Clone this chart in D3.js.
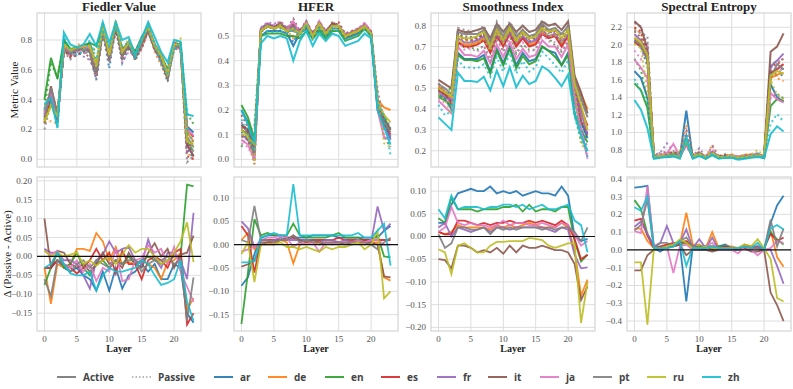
<!doctype html>
<html lang="en">
<head>
<meta charset="utf-8">
<style>
  body { margin: 0; background: #fff; }
  svg { display: block; background: #fff; }
  .tick { font-family: "Liberation Serif", "DejaVu Serif", serif; font-size: 9px; fill: #555; }
  .title { font-family: "Liberation Serif", serif; font-size: 13px; font-weight: bold; fill: #222; }
  .ylab { font-family: "Liberation Serif", serif; font-size: 11px; fill: #222; }
  .xlab { font-family: "Liberation Serif", serif; font-size: 10px; font-weight: bold; fill: #222; }
  .legend text { font-family: "Open Sans", "DejaVu Sans", sans-serif; font-size: 10px; font-weight: 700; fill: #444; }
</style>
</head>
<body>
<script src="https://d3js.org/d3.v7.min.js"></script>
<script>
var layers = d3.range(24);
var languages = ["ar", "de", "en", "es", "fr", "it", "ja", "pt", "ru", "zh"];
var langColors = ["#1f77b4", "#ff7f0e", "#2ca02c", "#d62728", "#9467bd", "#8c564b", "#e377c2", "#7f7f7f", "#bcbd22", "#17becf"];
var xTicks = [0, 5, 10, 15, 20];

// ---- Fiedler Value ----
var fiedlerActive = {
  ar: [0.30,0.42,0.25,0.80,0.73,0.75,0.76,0.78,0.62,0.89,0.70,0.91,0.73,0.79,0.72,0.82,0.89,0.77,0.70,0.58,0.78,0.77,0.22,0.18],
  de: [0.28,0.38,0.26,0.76,0.71,0.75,0.75,0.75,0.60,0.88,0.69,0.90,0.71,0.78,0.70,0.80,0.88,0.75,0.69,0.56,0.77,0.76,0.18,0.12],
  en: [0.40,0.68,0.54,0.80,0.74,0.75,0.76,0.78,0.76,0.88,0.72,0.90,0.74,0.78,0.72,0.81,0.88,0.77,0.70,0.60,0.78,0.77,0.12,0.05],
  es: [0.28,0.40,0.27,0.75,0.72,0.74,0.75,0.74,0.60,0.87,0.70,0.89,0.72,0.77,0.70,0.80,0.87,0.75,0.69,0.57,0.77,0.76,0.20,0.15],
  fr: [0.29,0.44,0.28,0.74,0.71,0.74,0.74,0.75,0.59,0.88,0.69,0.90,0.71,0.77,0.69,0.79,0.87,0.74,0.68,0.56,0.76,0.75,0.10,0.02],
  it: [0.24,0.49,0.30,0.73,0.70,0.73,0.74,0.72,0.56,0.86,0.67,0.89,0.69,0.76,0.68,0.78,0.86,0.74,0.67,0.54,0.76,0.75,0.10,0.02],
  ja: [0.30,0.45,0.28,0.76,0.72,0.74,0.75,0.75,0.62,0.88,0.70,0.90,0.72,0.78,0.70,0.80,0.88,0.76,0.69,0.58,0.77,0.76,0.20,0.16],
  pt: [0.26,0.48,0.30,0.74,0.71,0.74,0.74,0.73,0.58,0.87,0.68,0.90,0.70,0.77,0.69,0.79,0.87,0.75,0.68,0.55,0.76,0.75,0.15,0.08],
  ru: [0.25,0.36,0.29,0.77,0.73,0.75,0.76,0.76,0.64,0.89,0.70,0.93,0.72,0.78,0.70,0.80,0.89,0.76,0.70,0.57,0.77,0.77,0.12,0.10],
  zh: [0.37,0.41,0.21,0.85,0.77,0.75,0.77,0.84,0.76,0.92,0.78,0.92,0.80,0.82,0.70,0.81,0.92,0.82,0.72,0.65,0.80,0.79,0.30,0.29]
};
var fiedlerDelta = {
  ar: [-0.03,-0.03,-0.01,-0.03,-0.04,-0.03,-0.05,-0.06,-0.09,-0.04,-0.09,-0.03,-0.085,-0.05,-0.04,-0.02,-0.04,-0.02,-0.06,-0.06,-0.02,-0.03,-0.15,-0.175],
  de: [-0.03,-0.125,-0.02,-0.03,-0.02,0.02,0.02,0.015,0.062,0.04,-0.01,0.025,-0.02,-0.015,-0.02,-0.01,-0.02,-0.03,-0.06,-0.015,-0.01,0.01,-0.14,-0.11],
  en: [-0.075,-0.03,0.01,-0.03,-0.02,0.01,-0.03,-0.05,-0.02,-0.01,-0.03,-0.01,-0.02,0.0,-0.02,-0.01,0.0,-0.01,-0.02,-0.01,0.0,0.0,0.19,0.185],
  es: [-0.03,-0.03,-0.01,-0.02,-0.03,-0.045,-0.03,-0.01,0.02,-0.01,0.01,-0.045,0.015,-0.02,-0.02,-0.06,-0.01,0.0,-0.01,-0.03,0.01,0.02,-0.18,-0.15],
  fr: [0.02,0.01,0.01,-0.01,-0.01,-0.02,-0.05,-0.085,-0.01,0.005,0.04,0.01,0.02,0.025,-0.01,-0.02,0.045,-0.005,-0.03,0.01,0.01,-0.01,-0.06,0.115],
  it: [0.10,-0.03,0.015,0.01,-0.02,-0.03,-0.02,-0.04,-0.02,0.01,-0.02,-0.01,-0.03,0.01,-0.02,-0.03,0.01,0.035,0.0,0.02,-0.03,0.005,0.01,0.055],
  ja: [0.015,0.005,0.015,-0.02,-0.03,-0.01,-0.04,-0.02,-0.065,-0.03,-0.04,0.02,-0.065,-0.06,-0.01,-0.005,0.03,0.01,0.02,-0.02,0.025,-0.04,-0.08,-0.12],
  pt: [-0.06,-0.105,-0.01,-0.02,-0.04,-0.02,-0.01,-0.03,-0.01,-0.02,-0.03,-0.01,-0.02,-0.01,-0.01,-0.04,-0.02,-0.01,-0.01,0.0,-0.02,-0.01,-0.17,-0.055],
  ru: [0.015,0.0,0.01,0.0,0.005,0.01,-0.02,-0.01,-0.025,-0.01,0.0,-0.02,0.005,0.03,0.01,0.02,0.02,0.0,-0.02,-0.01,0.01,0.04,0.09,-0.015],
  zh: [-0.03,-0.02,0.01,-0.02,-0.045,-0.05,-0.05,-0.04,-0.09,-0.05,-0.03,-0.04,-0.04,-0.035,-0.03,-0.01,-0.02,-0.05,-0.075,-0.07,-0.06,-0.01,-0.12,-0.17]
};

// ---- HFER ----
var hferActive = {
  ar: [0.20,0.15,0.05,0.50,0.52,0.52,0.52,0.51,0.46,0.51,0.53,0.49,0.53,0.50,0.53,0.53,0.49,0.50,0.51,0.53,0.50,0.22,0.15,0.08],
  de: [0.12,0.10,0.03,0.52,0.54,0.53,0.54,0.52,0.53,0.51,0.55,0.50,0.55,0.51,0.54,0.54,0.50,0.51,0.52,0.54,0.51,0.24,0.21,0.20],
  en: [0.22,0.17,0.08,0.50,0.51,0.51,0.51,0.50,0.50,0.49,0.52,0.49,0.52,0.49,0.52,0.52,0.48,0.49,0.50,0.53,0.50,0.22,0.17,0.12],
  es: [0.14,0.11,0.04,0.52,0.54,0.53,0.54,0.52,0.53,0.51,0.55,0.50,0.55,0.51,0.54,0.54,0.50,0.51,0.52,0.54,0.51,0.21,0.14,0.10],
  fr: [0.10,0.08,0.02,0.53,0.55,0.54,0.54,0.52,0.54,0.51,0.55,0.50,0.55,0.51,0.54,0.54,0.50,0.51,0.52,0.54,0.51,0.20,0.13,0.09],
  it: [0.14,0.12,0.03,0.52,0.54,0.53,0.55,0.52,0.55,0.51,0.55,0.50,0.55,0.51,0.55,0.54,0.50,0.51,0.52,0.54,0.51,0.23,0.16,0.12],
  ja: [0.08,0.06,0.00,0.52,0.54,0.53,0.54,0.52,0.56,0.51,0.56,0.50,0.56,0.51,0.54,0.54,0.50,0.51,0.52,0.55,0.51,0.20,0.09,0.08],
  pt: [0.12,0.10,0.02,0.52,0.54,0.53,0.54,0.52,0.52,0.51,0.55,0.50,0.55,0.51,0.54,0.54,0.50,0.51,0.52,0.54,0.51,0.22,0.15,0.11],
  ru: [0.12,0.09,0.06,0.52,0.54,0.53,0.54,0.52,0.53,0.51,0.55,0.50,0.55,0.51,0.54,0.54,0.50,0.51,0.52,0.54,0.51,0.23,0.18,0.15],
  zh: [0.20,0.14,0.07,0.47,0.50,0.49,0.50,0.49,0.40,0.48,0.52,0.46,0.51,0.48,0.51,0.50,0.46,0.47,0.48,0.51,0.49,0.20,0.13,0.06]
};
var hferDelta = {
  ar: [-0.088,-0.07,-0.02,0.015,0.02,0.02,0.02,0.015,0.015,0.015,0.015,0.02,0.02,0.02,0.02,0.015,0.015,0.015,0.015,0.015,0.015,0.015,0.03,0.04],
  de: [0.01,0.025,-0.01,0.005,0.005,0.0,0.01,0.005,-0.04,0.0,0.005,0.005,0.0,0.005,0.005,0.0,0.005,0.005,0.005,0.0,0.005,0.005,-0.07,-0.077],
  en: [-0.17,-0.06,0.055,0.02,0.025,0.02,0.02,0.02,0.045,0.02,0.015,0.015,0.015,0.015,0.02,0.025,0.015,0.015,0.015,0.01,0.01,0.02,-0.025,-0.027],
  es: [0.04,0.02,-0.06,0.01,0.01,0.01,0.01,0.015,0.015,0.01,0.01,0.01,0.01,0.01,0.01,0.015,0.01,0.01,0.01,0.01,0.01,0.01,0.01,0.01],
  fr: [0.05,0.035,-0.005,0.005,0.005,0.01,0.015,0.01,0.01,0.01,0.01,0.01,0.005,0.01,0.01,0.005,0.01,0.005,0.01,0.005,0.005,0.082,0.03,0.045],
  it: [-0.047,-0.042,-0.035,0.0,0.005,0.005,0.01,0.01,0.02,0.01,0.005,0.01,0.005,0.0,0.005,0.005,0.0,0.005,0.01,0.005,0.005,0.0,-0.068,-0.07],
  ja: [-0.015,-0.01,-0.005,0.01,0.015,0.015,0.02,0.015,-0.005,0.005,0.0,0.005,-0.015,0.005,0.0,0.005,0.005,0.005,0.01,0.005,0.01,0.01,0.0,0.0],
  pt: [0.01,0.005,0.083,0.01,0.01,0.005,0.01,0.01,0.02,0.005,0.01,0.005,0.005,0.005,0.005,0.005,0.005,0.005,0.005,0.005,0.0,-0.01,0.005,0.015],
  ru: [-0.02,0.005,-0.08,0.0,0.0,0.0,0.005,-0.005,-0.005,-0.01,-0.005,-0.01,-0.015,-0.005,-0.01,-0.005,-0.005,0.0,0.005,-0.01,0.0,0.03,-0.115,-0.1],
  zh: [-0.038,-0.038,-0.035,0.015,0.02,0.025,0.02,0.02,0.13,0.02,0.02,0.02,0.02,0.02,0.02,0.02,0.02,0.02,0.025,0.015,0.015,0.03,0.045,-0.045]
};

// ---- Smoothness Index ----
var smoothActive = {
  ar: [0.47,0.45,0.40,0.67,0.64,0.64,0.64,0.66,0.58,0.69,0.62,0.70,0.61,0.67,0.63,0.64,0.70,0.68,0.67,0.61,0.67,0.44,0.34,0.26],
  de: [0.51,0.48,0.44,0.72,0.71,0.71,0.72,0.74,0.68,0.76,0.71,0.77,0.71,0.75,0.71,0.72,0.77,0.75,0.76,0.71,0.76,0.55,0.47,0.40],
  en: [0.46,0.44,0.42,0.66,0.635,0.635,0.63,0.645,0.57,0.68,0.61,0.69,0.595,0.655,0.615,0.63,0.70,0.68,0.65,0.61,0.66,0.38,0.30,0.24],
  es: [0.49,0.47,0.43,0.72,0.70,0.70,0.71,0.73,0.67,0.75,0.70,0.76,0.70,0.74,0.70,0.71,0.76,0.74,0.75,0.70,0.75,0.50,0.40,0.32],
  fr: [0.48,0.46,0.44,0.74,0.72,0.72,0.73,0.75,0.69,0.76,0.72,0.77,0.72,0.75,0.72,0.73,0.78,0.75,0.76,0.72,0.76,0.50,0.38,0.28],
  it: [0.54,0.52,0.50,0.78,0.77,0.77,0.78,0.79,0.74,0.81,0.77,0.81,0.77,0.80,0.77,0.78,0.82,0.80,0.81,0.78,0.82,0.56,0.48,0.38],
  ja: [0.44,0.41,0.38,0.70,0.66,0.66,0.65,0.68,0.62,0.71,0.65,0.72,0.64,0.69,0.65,0.66,0.73,0.70,0.70,0.65,0.71,0.45,0.30,0.17],
  pt: [0.52,0.50,0.47,0.77,0.76,0.76,0.76,0.78,0.72,0.80,0.75,0.80,0.75,0.78,0.75,0.76,0.81,0.78,0.79,0.76,0.80,0.54,0.45,0.36],
  ru: [0.50,0.48,0.46,0.75,0.74,0.74,0.75,0.77,0.70,0.78,0.73,0.79,0.73,0.77,0.74,0.75,0.79,0.77,0.78,0.74,0.78,0.52,0.42,0.30],
  zh: [0.36,0.33,0.30,0.575,0.535,0.535,0.53,0.555,0.49,0.585,0.51,0.60,0.505,0.56,0.52,0.535,0.605,0.585,0.55,0.51,0.565,0.37,0.27,0.20]
};
var smoothDelta = {
  ar: [0.03,0.03,0.07,0.095,0.10,0.105,0.10,0.10,0.11,0.095,0.10,0.095,0.10,0.09,0.095,0.10,0.095,0.095,0.09,0.11,0.09,0.0,-0.01,-0.005],
  de: [0.01,0.005,0.01,0.025,0.02,0.02,0.02,0.02,0.015,0.025,0.02,0.025,0.02,0.025,0.03,0.025,0.02,0.02,0.02,0.03,0.02,-0.03,-0.13,-0.095],
  en: [0.04,0.03,0.085,0.06,0.06,0.06,0.055,0.06,0.06,0.06,0.065,0.065,0.07,0.055,0.07,0.055,0.06,0.06,0.055,0.065,0.065,-0.01,-0.055,-0.04],
  es: [0.01,0.005,0.005,0.035,0.035,0.03,0.025,0.03,0.025,0.03,0.03,0.035,0.03,0.03,0.035,0.03,0.035,0.03,0.025,0.035,0.025,-0.005,-0.05,-0.04],
  fr: [0.02,0.03,0.0,0.02,0.015,0.01,0.015,0.02,0.01,0.02,0.02,0.015,0.02,0.02,0.02,0.02,0.02,0.015,0.01,0.02,0.015,-0.04,-0.07,-0.068],
  it: [-0.05,-0.052,-0.07,-0.02,-0.02,-0.025,-0.035,-0.03,-0.035,-0.025,-0.038,-0.02,-0.035,-0.02,-0.025,-0.025,-0.02,-0.025,-0.03,-0.03,-0.035,-0.06,-0.14,-0.11],
  ja: [0.01,0.02,0.065,0.03,0.025,0.03,0.025,0.025,0.02,0.025,0.035,0.025,0.03,0.03,0.025,0.025,0.03,0.025,0.02,0.03,0.025,0.005,-0.02,-0.01],
  pt: [0.005,-0.025,-0.015,0.02,0.02,0.015,0.015,0.02,0.005,0.02,0.015,0.02,0.015,0.02,0.02,0.02,0.015,0.02,0.015,0.02,0.02,0.01,-0.01,0.02],
  ru: [-0.028,-0.035,-0.083,-0.02,-0.015,-0.025,-0.035,-0.035,-0.02,-0.012,-0.012,-0.01,-0.01,-0.01,-0.003,-0.005,-0.008,-0.02,-0.025,-0.02,-0.015,-0.015,-0.19,-0.1],
  zh: [0.06,0.04,0.09,0.06,0.065,0.065,0.065,0.06,0.065,0.065,0.07,0.07,0.065,0.07,0.06,0.065,0.07,0.06,0.06,0.065,0.07,0.035,0.025,-0.035]
};

// ---- Spectral Entropy ----
var entropyActive = {
  ar: [1.70,1.62,1.40,0.71,0.72,0.72,0.73,0.72,1.25,0.71,0.74,0.71,0.75,0.71,0.72,0.72,0.71,0.71,0.72,0.73,0.71,1.55,1.40,1.35],
  de: [2.08,2.00,1.85,0.72,0.73,0.73,0.74,0.72,0.88,0.72,0.75,0.71,0.76,0.72,0.72,0.73,0.71,0.72,0.73,0.74,0.72,1.62,1.66,1.68],
  en: [1.56,1.48,1.28,0.71,0.72,0.72,0.73,0.71,0.88,0.71,0.74,0.70,0.75,0.71,0.71,0.72,0.70,0.71,0.72,0.73,0.71,1.30,1.38,1.36],
  es: [2.03,1.98,1.85,0.72,0.73,0.73,0.74,0.72,0.89,0.72,0.75,0.71,0.76,0.72,0.72,0.73,0.71,0.72,0.73,0.74,0.72,1.68,1.72,1.78],
  fr: [2.12,2.05,1.90,0.72,0.73,0.74,0.75,0.72,0.90,0.72,0.76,0.71,0.77,0.72,0.72,0.73,0.71,0.72,0.73,0.74,0.72,1.75,1.82,1.90],
  it: [2.27,2.20,1.95,0.73,0.73,0.74,0.75,0.73,0.88,0.72,0.77,0.71,0.78,0.72,0.73,0.73,0.71,0.73,0.74,0.75,0.73,1.92,1.98,2.13],
  ja: [1.83,1.74,1.62,0.72,0.74,0.76,0.87,0.73,0.85,0.72,0.76,0.71,0.77,0.72,0.72,0.74,0.73,0.72,0.74,0.76,0.72,1.45,1.38,1.34],
  pt: [2.06,1.99,1.82,0.72,0.73,0.74,0.74,0.72,0.90,0.72,0.76,0.71,0.76,0.72,0.72,0.73,0.71,0.72,0.73,0.74,0.72,1.62,1.78,1.72],
  ru: [2.08,2.03,1.88,0.72,0.73,0.73,0.74,0.72,0.90,0.72,0.75,0.71,0.76,0.72,0.72,0.73,0.71,0.72,0.73,0.74,0.72,1.65,1.70,1.67],
  zh: [1.37,1.26,1.05,0.70,0.71,0.72,0.73,0.70,0.95,0.70,0.73,0.70,0.74,0.70,0.71,0.71,0.69,0.70,0.71,0.72,0.71,0.98,1.07,1.01]
};
var entropyDelta = {
  ar: [0.35,0.355,0.36,0.01,-0.01,0.02,0.03,0.03,-0.29,0.02,0.0,0.02,0.0,0.02,0.03,0.01,0.01,0.02,0.01,0.02,0.0,0.15,0.25,0.305],
  de: [0.12,0.12,0.05,0.01,0.01,0.03,0.03,0.03,0.21,0.03,0.03,0.01,0.10,0.01,0.02,0.02,0.01,0.03,0.02,0.02,0.01,0.11,-0.04,-0.095],
  en: [0.28,0.23,0.09,0.02,0.01,0.02,0.02,0.03,0.04,0.02,0.02,0.02,0.02,0.02,0.02,0.01,0.01,0.02,0.01,0.02,0.01,0.10,0.06,0.03],
  es: [0.165,0.175,0.08,0.01,0.02,0.03,0.04,0.04,0.05,0.02,0.01,0.02,0.01,0.01,0.02,0.01,0.01,0.02,0.02,0.01,0.01,0.09,0.05,0.07],
  fr: [0.13,0.16,0.09,0.02,0.04,0.135,0.04,0.04,0.115,0.01,0.06,0.01,0.07,0.0,0.01,0.01,0.01,0.01,0.01,0.02,0.0,0.0,-0.09,-0.19],
  it: [-0.115,-0.115,-0.03,0.0,0.01,0.01,0.02,0.03,-0.03,0.0,0.0,0.0,-0.01,0.0,0.0,0.0,0.0,0.01,-0.01,-0.01,0.0,-0.24,-0.31,-0.40],
  ja: [0.105,0.095,0.36,0.02,0.0,0.02,-0.13,0.02,0.03,0.0,0.0,0.02,0.04,0.0,0.0,0.0,-0.02,0.02,0.0,-0.03,0.0,0.01,0.05,0.04],
  pt: [0.11,0.14,0.28,0.01,0.04,0.04,0.02,0.05,0.07,0.02,0.01,0.02,0.02,0.01,0.01,0.01,0.01,0.02,0.01,0.01,0.0,0.17,0.02,0.12],
  ru: [-0.07,-0.07,-0.42,0.01,0.01,0.02,0.03,0.06,0.04,0.01,0.01,0.02,0.01,0.01,0.01,0.01,0.01,0.03,0.02,0.06,0.01,-0.05,-0.27,-0.29],
  zh: [0.24,0.22,0.30,0.01,0.01,0.01,0.02,0.05,-0.09,0.01,0.01,0.01,0.02,0.01,0.01,0.01,0.01,0.02,0.01,0.04,0.0,0.12,0.14,0.115]
};

var titles = ["Fiedler Value", "HFER", "Smoothness Index", "Spectral Entropy"];
var topTicks = [[0.0,0.2,0.4,0.6,0.8], [0.0,0.1,0.2,0.3,0.4,0.5], [0.2,0.3,0.4,0.5,0.6,0.7,0.8], [0.8,1.0,1.2,1.4,1.6,1.8,2.0,2.2]];
var deltaTicks = [[-0.15,-0.10,-0.05,0.0,0.05,0.10,0.15,0.20], [-0.15,-0.10,-0.05,0.0,0.05,0.10], [-0.20,-0.15,-0.10,-0.05,0.0,0.05,0.10], [-0.4,-0.3,-0.2,-0.1,0.0,0.1,0.2,0.3,0.4]];

var width = 793, height = 389;
var colLeft = [37, 234, 431, 627], panelW = 164;
var topRow = [13, 167], botRow = [177, 331];
var topDomains = [[-0.052, 0.981], [-0.031, 0.593], [0.122, 0.861], [0.606, 2.363]];
var deltaDomains = [[-0.197, 0.21], [-0.185, 0.145], [-0.208, 0.131], [-0.456, 0.41]];
var topFmt = [".1f", ".1f", ".1f", ".1f"], deltaFmt = [".2f", ".2f", ".2f", ".1f"];
var metrics = [[fiedlerActive, fiedlerDelta], [hferActive, hferDelta], [smoothActive, smoothDelta], [entropyActive, entropyDelta]];

var svg = d3.select("body").append("svg").attr("width", width).attr("height", height);
var defs = svg.append("defs");

function frame(id, x, y, ticks, fmt, withXLabels) {
  var g = svg.append("g");
  var x0 = x.range()[0], x1 = x.range()[1], y0 = y.range()[1], y1 = y.range()[0];
  defs.append("clipPath").attr("id", id).append("rect")
    .attr("x", x0).attr("y", y0).attr("width", x1 - x0).attr("height", y1 - y0);
  g.selectAll(".hg").data(ticks).enter().append("line")
    .attr("x1", x0).attr("x2", x1).attr("y1", d => y(d)).attr("y2", d => y(d))
    .attr("stroke", "#dedede").attr("stroke-width", 1);
  g.selectAll(".vg").data(xTicks).enter().append("line")
    .attr("y1", y0).attr("y2", y1).attr("x1", d => x(d)).attr("x2", d => x(d))
    .attr("stroke", "#dedede").attr("stroke-width", 1);
  g.append("rect").attr("x", x0).attr("y", y0).attr("width", x1 - x0).attr("height", y1 - y0)
    .attr("fill", "none").attr("stroke", "#d4d4d4").attr("stroke-width", 1.2);
  g.selectAll(".yt").data(ticks).enter().append("text").attr("class", "tick")
    .attr("x", x0 - 5).attr("y", d => y(d)).attr("dy", "0.33em").attr("text-anchor", "end")
    .text(d => d3.format(fmt)(d));
  if (withXLabels) {
    g.selectAll(".xt").data(xTicks).enter().append("text").attr("class", "tick")
      .attr("x", d => x(d)).attr("y", y1 + 11).attr("text-anchor", "middle").text(d => d);
  }
  return svg.append("g").attr("clip-path", "url(#" + id + ")");
}

metrics.forEach(function (m, c) {
  var active = m[0], delta = m[1];
  var x = d3.scaleLinear().domain([-1.15, 24.15]).range([colLeft[c], colLeft[c] + panelW]);
  var yTop = d3.scaleLinear().domain(topDomains[c]).range([topRow[1], topRow[0]]);
  var yBot = d3.scaleLinear().domain(deltaDomains[c]).range([botRow[1], botRow[0]]);

  var gTop = frame("ct" + c, x, yTop, topTicks[c], topFmt[c], false);
  var lineTop = d3.line().x((d, i) => x(layers[i])).y(d => yTop(d));
  languages.forEach(function (lang, k) {
    // passive curve = active + Δ shown in the lower panel
    var passive = active[lang].map((v, i) => v + delta[lang][i]);
    gTop.append("path").attr("d", lineTop(active[lang])).attr("fill", "none")
      .attr("stroke", langColors[k]).attr("stroke-width", 2).attr("stroke-opacity", 0.9);
    gTop.append("path").attr("d", lineTop(passive)).attr("fill", "none")
      .attr("stroke", langColors[k]).attr("stroke-width", 2).attr("stroke-opacity", 0.8)
      .attr("stroke-dasharray", "2,3");
  });

  var gBot = frame("cb" + c, x, yBot, deltaTicks[c], deltaFmt[c], true);
  var lineBot = d3.line().x((d, i) => x(layers[i])).y(d => yBot(d));
  languages.forEach(function (lang, k) {
    gBot.append("path").attr("d", lineBot(delta[lang])).attr("fill", "none")
      .attr("stroke", langColors[k]).attr("stroke-width", 1.8).attr("stroke-opacity", 0.9);
  });
  gBot.append("line").attr("x1", x.range()[0]).attr("x2", x.range()[1])
    .attr("y1", yBot(0)).attr("y2", yBot(0)).attr("stroke", "#111").attr("stroke-width", 1.2);

  svg.append("text").attr("class", "title").attr("x", colLeft[c] + panelW / 2).attr("y", 10.5)
    .attr("text-anchor", "middle").text(titles[c]);
  svg.append("text").attr("class", "xlab").attr("x", colLeft[c] + panelW / 2).attr("y", 352)
    .attr("text-anchor", "middle").text("Layer");
});

svg.append("text").attr("class", "ylab").attr("transform", "translate(18,90) rotate(-90)")
  .attr("text-anchor", "middle").text("Metric Value");
svg.append("text").attr("class", "ylab").attr("transform", "translate(11,254) rotate(-90)")
  .attr("text-anchor", "middle").text("Δ (Passive - Active)");

// legend
var legendItems = [{label: "Active", color: "#777", dash: null}, {label: "Passive", color: "#777", dash: "1.5,2"}]
  .concat(languages.map((l, k) => ({label: l, color: langColors[k], dash: null})));
var legendX = [57, 132, 214, 268, 325, 381, 437, 488, 540, 593, 647, 702];
var lg = svg.append("g").attr("class", "legend");
legendItems.forEach(function (d, i) {
  var g = lg.append("g").attr("transform", "translate(" + legendX[i] + ",377)");
  g.append("line").attr("x1", 0).attr("x2", 19).attr("stroke", d.color)
    .attr("stroke-width", d.dash ? 1.2 : 1.8).attr("stroke-dasharray", d.dash);
  g.append("text").attr("x", 26).attr("dy", "0.35em").text(d.label);
});
</script>
</body>
</html>
